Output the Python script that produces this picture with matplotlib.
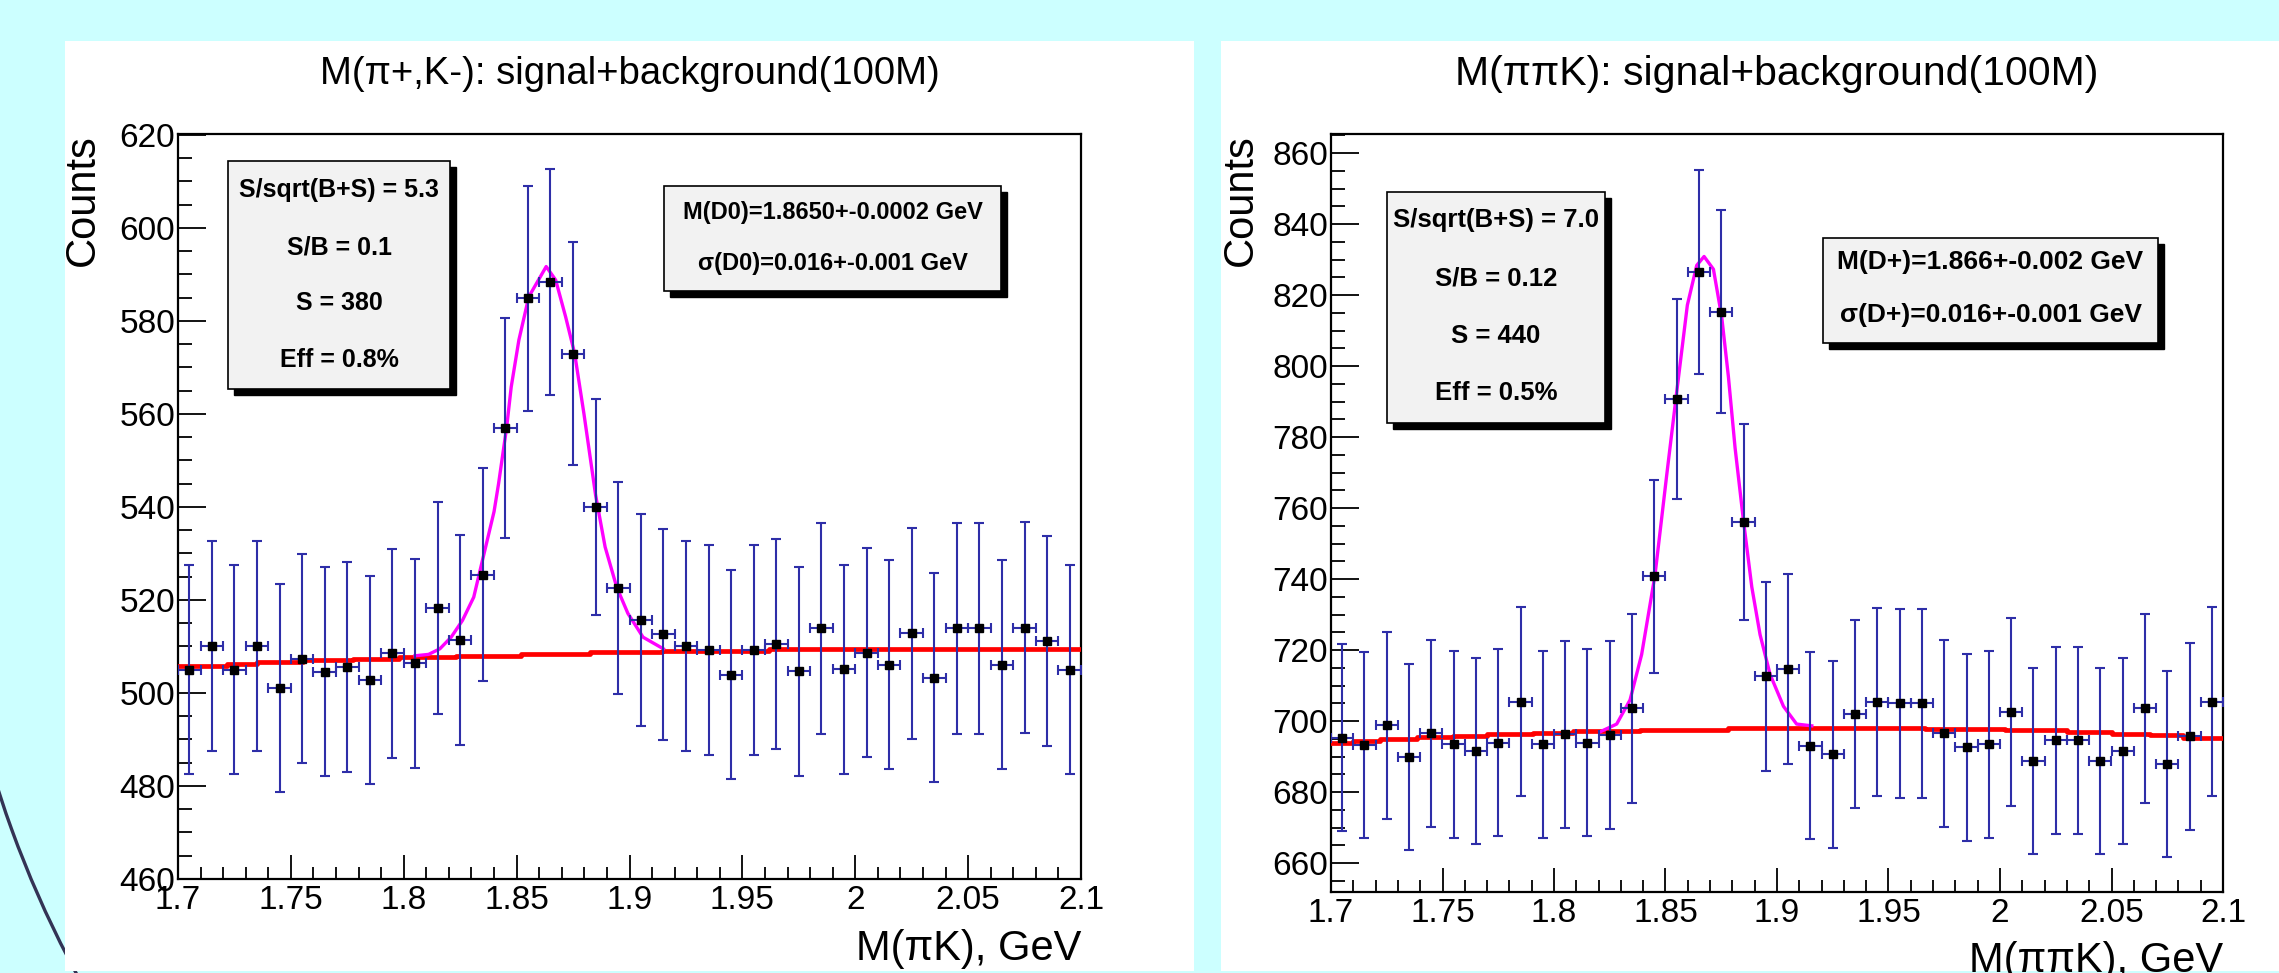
import numpy as np
import matplotlib
matplotlib.use("Agg")
import matplotlib.pyplot as plt
from matplotlib.patches import Rectangle, Arc
from matplotlib.ticker import MultipleLocator, FormatStrFormatter
from matplotlib import transforms

plt.rcParams['font.family'] = ['Liberation Sans', 'DejaVu Sans']

# histogram binning: 40 bins of 0.01 GeV between 1.7 and 2.1
x_lo, x_hi, n_bins = 1.7, 2.1, 40
bin_centers = np.linspace(x_lo + 0.005, x_hi - 0.005, n_bins)
half_width = 0.005

# M(pi+,K-) counts per bin
left_counts = [505.0, 510.1, 505.0, 510.0, 501.0, 507.4, 504.6, 505.6, 502.8, 508.5,
               506.4, 518.3, 511.4, 525.4, 557.0, 584.9, 588.4, 573.0, 540.0, 522.6,
               515.7, 512.6, 510.1, 509.2, 503.9, 509.2, 510.6, 504.7, 513.9, 505.1,
               508.7, 506.1, 512.8, 503.3, 513.9, 513.9, 506.1, 514.0, 511.1, 505.0]

# M(pi pi K) counts per bin
right_counts = [695.4, 693.3, 698.8, 689.9, 696.6, 693.5, 691.6, 694.0, 705.5, 693.5,
                696.3, 694.0, 696.1, 703.6, 740.8, 790.7, 826.5, 815.4, 756.1, 712.6,
                714.6, 693.1, 690.7, 702.1, 705.4, 705.0, 705.0, 696.6, 692.7, 693.5,
                702.6, 688.8, 694.6, 694.6, 688.8, 691.6, 703.6, 687.9, 695.7, 705.5]

# signal+background fit curves (magenta)
left_fit_x = [1.805, 1.811, 1.816, 1.821, 1.826, 1.831, 1.835, 1.840, 1.842, 1.8456,
              1.8476, 1.851, 1.8554, 1.8631, 1.8673, 1.8717, 1.8757, 1.8798, 1.885,
              1.8892, 1.8943, 1.8993, 1.906, 1.915]
left_fit_y = [508.0, 508.3, 509.5, 512.0, 515.6, 520.6, 528.8, 539.0, 545.0, 557.2,
              565.8, 575.9, 585.2, 591.7, 588.8, 580.9, 573.0, 560.1, 542.5,
              531.4, 522.8, 517.1, 512.0, 509.5]

right_fit_x = [1.8206, 1.8281, 1.8341, 1.8393, 1.8453, 1.8505, 1.8550, 1.8598, 1.8640,
               1.8673, 1.8715, 1.8752, 1.8782, 1.8812, 1.8849, 1.8887, 1.8924, 1.8969,
               1.9029, 1.9088, 1.9156]
right_fit_y = [697.0, 699.2, 706.0, 718.8, 741.2, 769.1, 792.6, 817.2, 828.4,
               830.9, 827.3, 813.9, 797.1, 777.0, 756.8, 737.8, 724.4, 713.2,
               704.2, 699.2, 698.7]

# background fit (red), drawn as steps like in the picture
left_bg_x = [1.700, 1.7216, 1.7351, 1.7554, 1.7775, 1.7978, 1.8232, 1.8519, 1.8824,
             1.9146, 1.962, 2.100]
left_bg_y = [505.9, 506.3, 506.6, 507.0, 507.4, 507.7, 508.0, 508.4, 508.8,
             509.1, 509.4, 509.4]
right_bg_x = [1.700, 1.7100, 1.7220, 1.7384, 1.7548, 1.7698, 1.7907, 1.8087, 1.8386,
              1.8782, 1.9664, 2.0022, 2.0299, 2.0501, 2.0673, 2.0822, 2.100]
right_bg_y = [694.0, 694.4, 694.9, 695.5, 695.9, 696.4, 696.8, 697.3, 697.6,
              698.2, 697.7, 697.4, 696.9, 696.4, 696.1, 695.4, 695.4]

left_stats = ["S/sqrt(B+S) = 5.3", "S/B = 0.1", "S = 380", "Eff = 0.8%"]
left_fit_text = ["M(D0)=1.8650+-0.0002 GeV", "σ(D0)=0.016+-0.001 GeV"]
right_stats = ["S/sqrt(B+S) = 7.0", "S/B = 0.12", "S = 440", "Eff = 0.5%"]
right_fit_text = ["M(D+)=1.866+-0.002 GeV", "σ(D+)=0.016+-0.001 GeV"]

W, H = 2279, 973
fig = plt.figure(figsize=(W / 100, H / 100), dpi=100, facecolor='#ccffff')


def fig_rect(x0, y0, x1, y1):
    # pixel box (top-left origin) -> figure fraction
    return [x0 / W, 1 - y1 / H, (x1 - x0) / W, (y1 - y0) / H]


# slide decoration arc and white panels
arc = Arc((1023, H - 462), 2 * 1076, 2 * 1076, theta1=185, theta2=215,
          color='#333355', lw=2.4, transform=transforms.IdentityTransform(), zorder=-3)
fig.add_artist(arc)
for x0, x1 in [(65, 1194), (1221, 2279)]:
    r = fig_rect(x0, 41, x1, 971)
    fig.add_artist(Rectangle((r[0], r[1]), r[2], r[3], transform=fig.transFigure,
                             facecolor='white', edgecolor='none', zorder=-2))


def pave(ax, box, lines, ys, size):
    x0, y0, x1, y1 = box
    shadow = transforms.offset_copy(ax.transAxes, fig=fig, x=6, y=-6, units='dots')
    ax.add_patch(Rectangle((x0, y0), x1 - x0, y1 - y0, transform=shadow,
                           facecolor='black', edgecolor='black', zorder=5))
    ax.add_patch(Rectangle((x0, y0), x1 - x0, y1 - y0, transform=ax.transAxes,
                           facecolor='#f2f2f2', edgecolor='black', lw=1.2, zorder=6))
    for txt, yy in zip(lines, ys):
        ax.text((x0 + x1) / 2, yy, txt, transform=ax.transAxes, ha='center', va='center',
                fontsize=size, fontweight='bold', zorder=7)


def rect_title_y(rect):
    # title centre sits at y = 74 px from the top of the image
    x0, y0, x1, y1 = rect
    return (y1 - 74) / (y1 - y0)


def panel(rect, counts, fit_x, fit_y, bg_x, bg_y, ylim, title, title_size, xlabel,
          xlabel_y, ylabel_x, stats_box, stats_y, stats_size, fit_box, fit_y_pos,
          fit_size, stats, fit_text):
    ax = fig.add_axes(fig_rect(*rect))
    counts = np.array(counts)
    ax.step(bg_x, bg_y, where='post', color='#ff0000', lw=3.4, zorder=3)
    ax.plot(fit_x, fit_y, color='#ff00ff', lw=2.4, zorder=3)
    ax.errorbar(bin_centers, counts, xerr=half_width, yerr=np.sqrt(counts), fmt='s',
                color='black', ms=6, ecolor='#2e2ea8', elinewidth=1.5, capsize=3.5,
                capthick=1.5, zorder=4)
    ax.set_xlim(x_lo, x_hi)
    ax.set_ylim(*ylim)
    ax.xaxis.set_major_locator(MultipleLocator(0.05))
    ax.xaxis.set_minor_locator(MultipleLocator(0.01))
    ax.yaxis.set_major_locator(MultipleLocator(20))
    ax.yaxis.set_minor_locator(MultipleLocator(5))
    ax.xaxis.set_major_formatter(FormatStrFormatter('%g'))
    ax.tick_params(which='both', direction='in', top=False, right=False, width=1.3,
                   colors='black', labelsize=24)
    ax.tick_params(axis='y', which='major', length=20, pad=2)
    ax.tick_params(axis='y', which='minor', length=10)
    ax.tick_params(axis='x', which='major', length=17, pad=4)
    ax.tick_params(axis='x', which='minor', length=8.5)
    for s in ax.spines.values():
        s.set_linewidth(1.6)
    ax.set_ylabel('Counts', fontsize=30, loc='top')
    ax.yaxis.set_label_coords(ylabel_x, 1.0)
    ax.set_xlabel(xlabel, fontsize=30, loc='right')
    ax.xaxis.set_label_coords(1.0, xlabel_y)
    ax.text(0.5, rect_title_y(rect), title, transform=ax.transAxes, ha='center',
            va='center', fontsize=title_size)
    pave(ax, stats_box, stats, stats_y, stats_size)
    pave(ax, fit_box, fit_text, fit_y_pos, fit_size)
    return ax


panel((178, 134, 1081, 879), left_counts, left_fit_x, left_fit_y, left_bg_x, left_bg_y,
      (460, 620.2), "M(π+,K-): signal+background(100M)", 27.5, "M(πK), GeV", -0.067, -0.083,
      (0.0554, 0.6577, 0.3012, 0.9638), [0.9248, 0.8483, 0.7732, 0.6966], 18,
      (0.5382, 0.7893, 0.9114, 0.9302), [0.8953, 0.8268], 17,
      left_stats, left_fit_text)

panel((1331, 134, 2223, 892), right_counts, right_fit_x, right_fit_y, right_bg_x, right_bg_y,
      (651.9, 865.4), "M(ππK): signal+background(100M)", 29.5, "M(ππK), GeV", -0.0646, -0.079,
      (0.0628, 0.6187, 0.3072, 0.9235), [0.8865, 0.8100, 0.7335, 0.6583], 18.5,
      (0.5516, 0.7243, 0.9271, 0.8628), [0.8311, 0.7612], 19,
      right_stats, right_fit_text)

fig.savefig('out.png', dpi=100, facecolor=fig.get_facecolor())
